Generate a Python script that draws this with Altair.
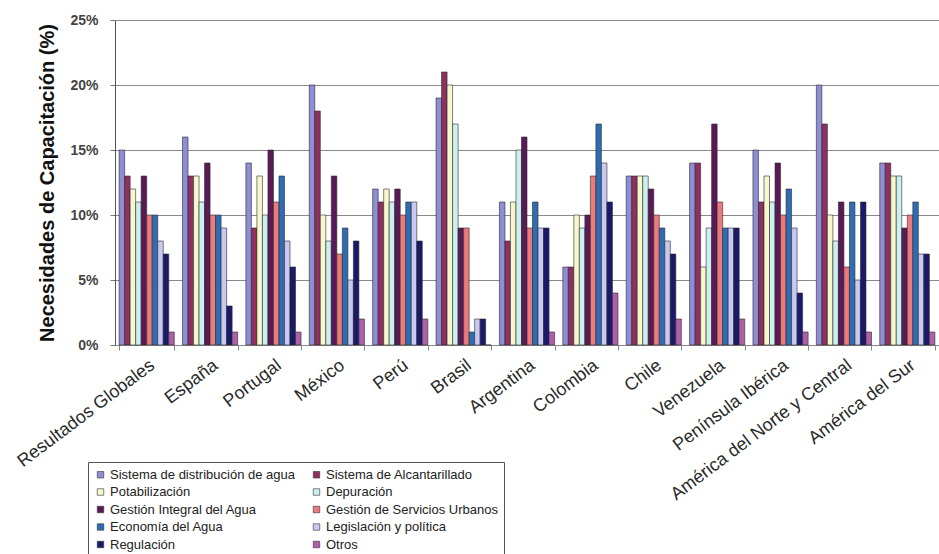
import altair as alt
import pandas as pd

regions = ["Resultados Globales", "España", "Portugal", "México", "Perú", "Brasil",
           "Argentina", "Colombia", "Chile", "Venezuela", "Península Ibérica",
           "América del Norte y Central", "América del Sur"]

series = ["Sistema de distribución de agua", "Sistema de Alcantarillado",
          "Potabilización", "Depuración", "Gestión Integral del Agua",
          "Gestión de Servicios Urbanos", "Economía del Agua",
          "Legislación y política", "Regulación", "Otros"]

colors = ["#8E8ED6", "#8E3060", "#F7F7CC", "#CCF0F0", "#5A1A58",
          "#EC7A7C", "#2E6DB4", "#C8C8F0", "#1A1A6A", "#B060A8"]

distribucion = [15, 16, 14, 20, 12, 19, 11, 6, 13, 14, 15, 20, 14]
alcantarillado = [13, 13, 9, 18, 11, 21, 8, 6, 13, 14, 11, 17, 14]
potabilizacion = [12, 13, 13, 10, 12, 20, 11, 10, 13, 6, 13, 10, 13]
depuracion = [11, 11, 10, 8, 11, 17, 15, 9, 13, 9, 11, 8, 13]
gestion_integral = [13, 14, 15, 13, 12, 9, 16, 10, 12, 17, 14, 11, 9]
servicios_urbanos = [10, 10, 11, 7, 10, 9, 9, 13, 10, 11, 10, 6, 10]
economia = [10, 10, 13, 9, 11, 1, 11, 17, 9, 9, 12, 11, 11]
legislacion = [8, 9, 8, 5, 11, 2, 9, 14, 8, 9, 9, 5, 7]
regulacion = [7, 3, 6, 8, 8, 2, 9, 11, 7, 9, 4, 11, 7]
otros = [1, 1, 1, 2, 2, 0, 1, 4, 2, 2, 1, 1, 1]

all_values = [distribucion, alcantarillado, potabilizacion, depuracion,
              gestion_integral, servicios_urbanos, economia, legislacion,
              regulacion, otros]

rows = []
for s, vals in zip(series, all_values):
    for r, v in zip(regions, vals):
        rows.append({"region": r, "serie": s, "valor": v})
df = pd.DataFrame(rows)

FONT = "Liberation Sans"

chart = alt.Chart(df).mark_bar(stroke="#2a2a2a", strokeWidth=0.6).encode(
    x=alt.X("region:N", sort=regions, title=None,
            scale=alt.Scale(paddingInner=0.13, paddingOuter=0.065),
            axis=alt.Axis(labelAngle=-37, labelAlign="right", labelBaseline="top",
                          labelFontSize=18, labelFont=FONT, labelColor="#2a2a2a",
                          labelPadding=6, tickBand="extent", tickSize=5,
                          tickColor="#888888", domainColor="#888888", grid=False,
                          labelLimit=400)),
    xOffset=alt.XOffset("serie:N", sort=series),
    y=alt.Y("valor:Q", title="Necesidades de Capacitación (%)",
            scale=alt.Scale(domain=[0, 25], nice=False),
            axis=alt.Axis(values=[0, 5, 10, 15, 20, 25],
                          labelExpr="datum.value + '%'",
                          labelFontSize=14, labelFont=FONT, labelColor="#444444",
                          labelFontWeight="bold", labelPadding=12,
                          tickSize=5, tickColor="#777777", domainColor="#555555",
                          gridColor="#8a8a8a", gridWidth=1,
                          titleFont=FONT, titleFontSize=20, titleFontWeight="bold",
                          titleColor="#111111", titlePadding=12)),
    color=alt.Color("serie:N", sort=series,
                    scale=alt.Scale(domain=series, range=colors),
                    legend=alt.Legend(title=None, orient="none", legendX=-27, legendY=442,
                                      direction="horizontal", columns=2,
                                      columnPadding=14, rowPadding=3.5,
                                      symbolType="square", symbolSize=42,
                                      symbolStrokeColor="#333333", symbolStrokeWidth=0.6,
                                      labelFont=FONT, labelFontSize=13,
                                      labelColor="#222222", labelOffset=3,
                                      labelLimit=300, padding=6,
                                      strokeColor="#555555", fillColor="white")),
).properties(
    width=824, height=325,
    autosize=alt.AutoSizeParams(type="none"),
    padding={"left": 115, "top": 20, "right": 0, "bottom": 209},
).configure_view(stroke=None).configure(background="white")

chart.save("out.html", embed_options={"renderer": "svg", "actions": False})
